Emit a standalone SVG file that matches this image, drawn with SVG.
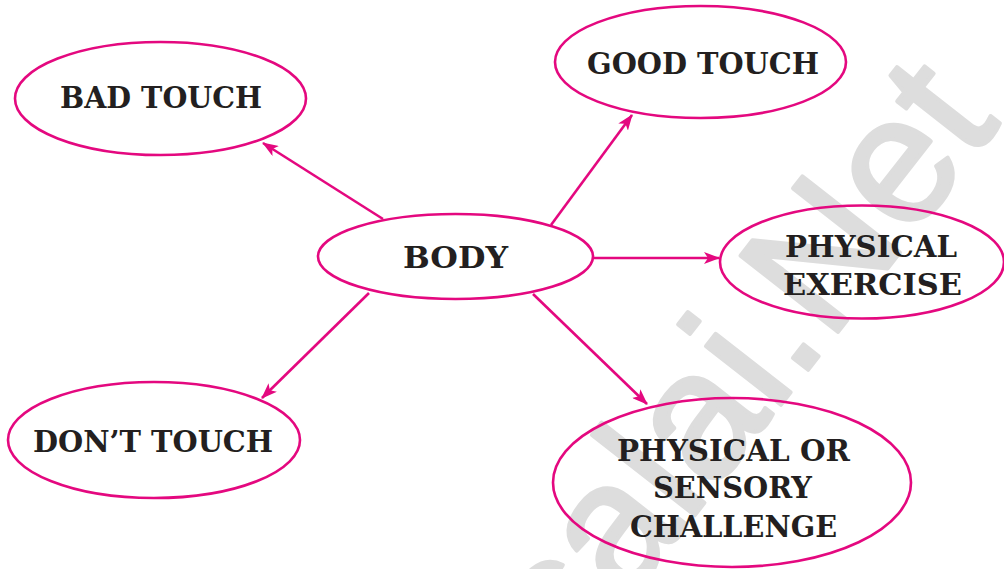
<svg xmlns="http://www.w3.org/2000/svg" width="1004" height="569" viewBox="0 0 1004 569">
<defs>
<style>
.node ellipse{fill:none;stroke:#e4087f;stroke-width:2.6}
.node text{font-family:"DejaVu Serif","Liberation Serif",serif;font-weight:bold;font-size:30px;fill:#231f20;text-anchor:middle}
.conn line{stroke:#e4087f;stroke-width:2.6;marker-end:url(#arr)}
.wm{font-family:"Liberation Sans",Arial,sans-serif;font-size:180px;fill:#dddddd;stroke:#dddddd;stroke-width:4;stroke-linejoin:round}
</style>
<marker id="arr" viewBox="0 0 16 12" refX="15" refY="6" markerWidth="16" markerHeight="12" markerUnits="userSpaceOnUse" orient="auto">
<path d="M0,0 L16,6 L0,12 L4,6 z" fill="#e4087f"/>
</marker>
</defs>
<rect width="1004" height="569" fill="#ffffff"/>
<text class="wm" transform="translate(330,982) rotate(-52)">Kalvisalai.Net</text>
<g class="conn" id="connectors">
<line x1="383" y1="219" x2="263" y2="143"/>
<line x1="551" y1="225" x2="632" y2="115"/>
<line x1="593" y1="258" x2="719" y2="258"/>
<line x1="369" y1="293" x2="262" y2="398"/>
<line x1="533" y1="294" x2="647" y2="404"/>
</g>
<g class="node" id="bad-touch">
<ellipse cx="160.5" cy="98.5" rx="145.5" ry="56.5"/>
<text x="161" y="108" textLength="202" lengthAdjust="spacingAndGlyphs">BAD TOUCH</text>
</g>
<g class="node" id="good-touch">
<ellipse cx="700.5" cy="62" rx="145.5" ry="56"/>
<text x="703" y="74" textLength="232" lengthAdjust="spacingAndGlyphs">GOOD TOUCH</text>
</g>
<g class="node" id="body">
<ellipse cx="455.5" cy="256.5" rx="137.5" ry="42.5"/>
<text x="455.5" y="268" textLength="105" lengthAdjust="spacingAndGlyphs">BODY</text>
</g>
<g class="node" id="physical-exercise">
<ellipse cx="862" cy="262" rx="142" ry="56.5"/>
<text x="871" y="257" textLength="172" lengthAdjust="spacingAndGlyphs">PHYSICAL</text>
<text x="872.5" y="295" textLength="179" lengthAdjust="spacingAndGlyphs">EXERCISE</text>
</g>
<g class="node" id="dont-touch">
<ellipse cx="154" cy="440" rx="146" ry="58"/>
<text x="153" y="452" textLength="240" lengthAdjust="spacingAndGlyphs">DON’T TOUCH</text>
</g>
<g class="node" id="challenge">
<ellipse cx="732" cy="482.5" rx="179" ry="84.5"/>
<text x="733.5" y="461" textLength="233" lengthAdjust="spacingAndGlyphs">PHYSICAL OR</text>
<text x="732.5" y="498" textLength="159" lengthAdjust="spacingAndGlyphs">SENSORY</text>
<text x="733.5" y="537" textLength="207" lengthAdjust="spacingAndGlyphs">CHALLENGE</text>
</g>
</svg>
